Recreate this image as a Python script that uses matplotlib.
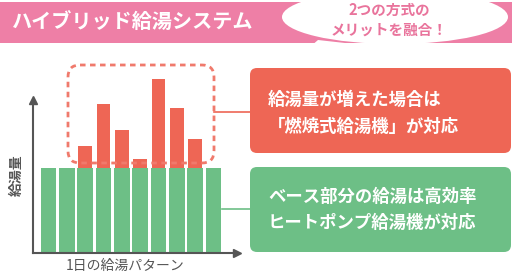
import matplotlib
matplotlib.use("Agg")
import matplotlib.pyplot as plt
from matplotlib.patches import FancyBboxPatch, Ellipse, Polygon, Rectangle
import numpy as np

plt.rcParams['font.family'] = ['Noto Sans CJK JP', 'DejaVu Sans']

# データ
slots = np.arange(10)
base_load = [9, 9, 9, 9, 9, 9, 9, 9, 9, 9]
peak_load = [0, 0, 2.3, 6.8, 4.0, 1.0, 9.5, 6.4, 3.1, 0]

title = "ハイブリッド給湯システム"
bubble_text = "2つの方式の\nメリットを融合！"
red_text = ["給湯量が増えた場合は", "「燃焼式給湯機」が対応"]
green_text = ["ベース部分の給湯は高効率", "ヒートポンプ給湯機が対応"]
ylabel = "給湯量"
xlabel = "1日の給湯パターン"

pink = '#EE7FA6'
red = '#EE6655'
green = '#6DBF86'
axis_col = '#555555'

W, H = 512, 272
fig = plt.figure(figsize=(W / 100, H / 100), dpi=100)
fig.patch.set_facecolor('white')

# グラフ本体
ax = fig.add_axes([33 / W, (H - 252.5) / H, 204 / W, 192.5 / H])
ax.patch.set_alpha(0)
ax.bar(slots, base_load, width=0.85, color=green, zorder=2)
ax.bar(slots, peak_load, bottom=base_load, width=0.76, color=red, zorder=2, clip_on=False)
ax.set_xlim(-0.846, 10.28)
ax.set_ylim(0, 20.5)
for s in ['top', 'right']:
    ax.spines[s].set_visible(False)
ax.spines['left'].set_bounds(0, 16.2)
for s in ['left', 'bottom']:
    ax.spines[s].set_color(axis_col)
    ax.spines[s].set_linewidth(1.5)
    ax.spines[s].set_zorder(3)
# 矢印
ax.plot(1, 0, '>', color=axis_col, ms=5.5, transform=ax.get_yaxis_transform(), clip_on=False, zorder=3)
ax.plot(-0.846, 16.2, '^', color=axis_col, ms=5.5, clip_on=False, zorder=3)
ax.set_xticks([])
ax.set_yticks([])

# 装飾（ピクセル座標）
ov = fig.add_axes([0, 0, 1, 1])
ov.set_xlim(0, W)
ov.set_ylim(H, 0)
ov.axis('off')
ov.patch.set_alpha(0)

ov.add_patch(Rectangle((0, 2), W, 41, color=pink, lw=0))
ov.text(12, 22, title, color='white', fontsize=14.5, fontweight='bold', va='center', ha='left')

ov.add_patch(Polygon([(318, 40), (345, 43), (303, 53)], closed=True, color='white', lw=0))
ov.add_patch(Ellipse((395, 17), 226, 54, color='white', lw=0))
ov.text(389, 20, bubble_text, color='#E9749C', fontsize=10.5, fontweight='bold',
        ha='center', va='center', linespacing=1.3)

ov.add_patch(FancyBboxPatch((68, 65), 146, 98, boxstyle="round,pad=0,rounding_size=12",
                            fill=False, ec='#F07A6C', lw=2, ls=(0, (2, 1.6))))
ov.plot([214, 250], [112, 112], color=red, lw=1.2)
ov.plot([222, 250], [209, 209], color=green, lw=1.2)

ov.add_patch(FancyBboxPatch((250, 68), 261, 85, boxstyle="round,pad=0,rounding_size=7",
                            color=red, lw=0))
ov.add_patch(FancyBboxPatch((250, 167), 261, 85, boxstyle="round,pad=0,rounding_size=7",
                            color=green, lw=0))
for i, t in enumerate(red_text):
    ov.text(268, 100 + i * 27, t, color='white', fontsize=12.5, fontweight='bold', va='center', ha='left')
for i, t in enumerate(green_text):
    ov.text(268, 197 + i * 26, t, color='white', fontsize=12.5, fontweight='bold', va='center', ha='left')

ov.text(17, 175, ylabel, color='#555555', fontsize=10, fontweight='bold', rotation=90, va='center', ha='center')
ov.text(125, 266, xlabel, color=axis_col, fontsize=10, va='center', ha='center')

fig.savefig('out.png', dpi=100)
